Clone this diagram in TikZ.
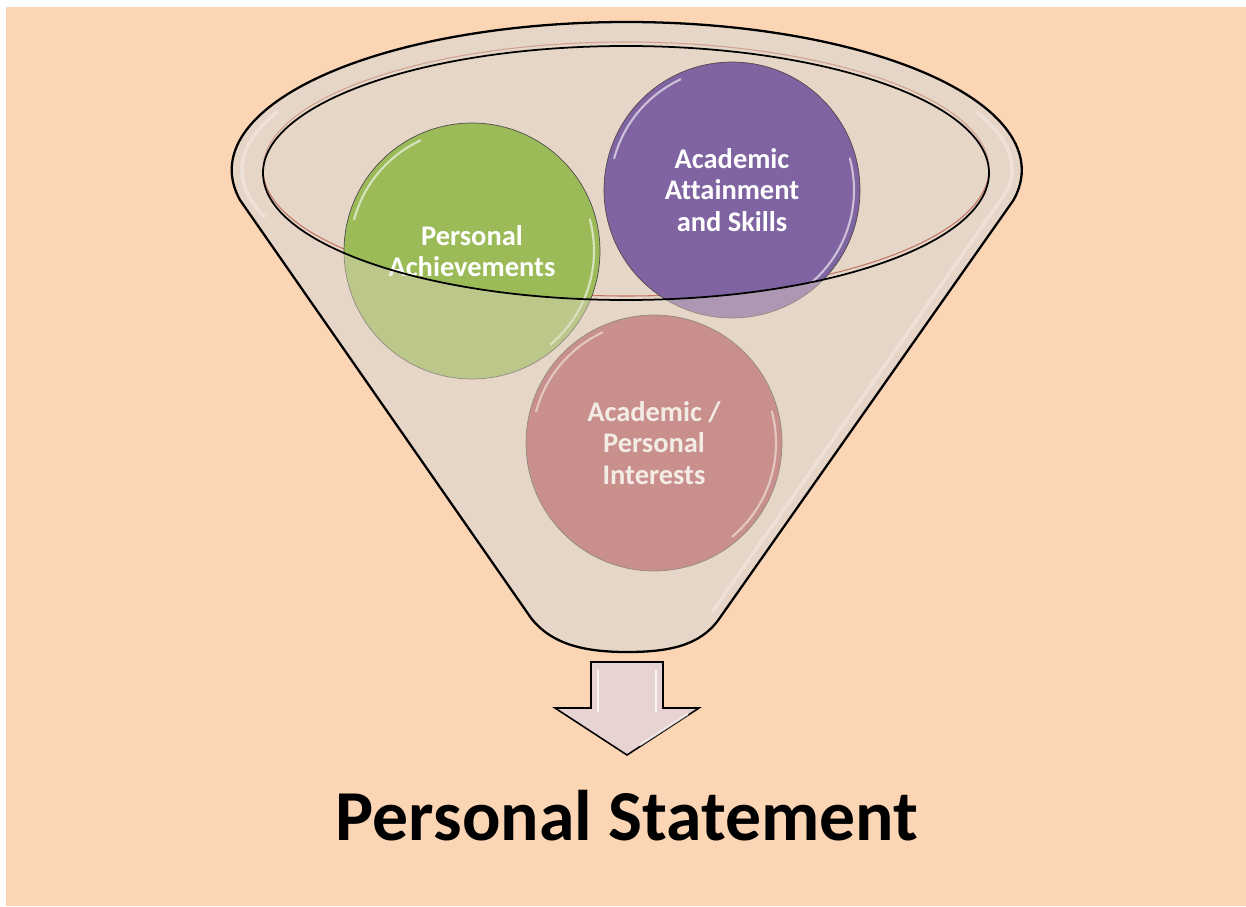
\documentclass[tikz,border=0pt]{standalone}
\usepackage{fontspec}
\setmainfont{Carlito}[Ligatures=NoCommon]
\begin{document}
\begin{tikzpicture}[x=0.02cm,y=-0.02cm]
\definecolor{peach}{HTML}{FCD5B5}
\definecolor{funnelc}{HTML}{E6D6C7}
\definecolor{ballgreen}{HTML}{9BBB59}
\definecolor{ballpurple}{HTML}{8064A2}
\definecolor{ballpink}{HTML}{B2565F}
\definecolor{rimred}{HTML}{C07565}
\definecolor{arrowc}{HTML}{E8D3D3}
\tikzset{
  ball/.style={circle, minimum size=5.12cm, inner sep=0pt, draw=black!70, line width=0.4pt,
    text=white, align=center, font=\bfseries\fontsize{16.2}{17.9}\selectfont},
  gloss/.style={white, opacity=0.6, line width=1.2pt, line cap=round},
  outline/.style={draw=black, line width=1.3pt, line join=round},
  title/.style={font=\bfseries\fontsize{40.8}{48}\selectfont, text=black, inner sep=0pt}
}
\def\funnelpath{(240,200) arc[start angle=168.3, end angle=371.7, x radius=395, y radius=148] -- (719,619) .. controls (700,646) and (668,652) .. (627,652) .. controls (586,652) and (552,645) .. (531,618) -- cycle}
\useasboundingbox (0,0) rectangle (1246,906);
\fill[white] (0,0) rectangle (1246,906);
\fill[peach] (6,7) rectangle (1246,906);
% funnel body
\fill[funnelc] \funnelpath;
% rim highlights
\draw[white, opacity=0.55, line width=2pt] (627,170) ++(160:385 and 138) arc[start angle=160, end angle=205, x radius=385, y radius=138];
\draw[white, opacity=0.55, line width=2pt] (627,170) ++(335:385 and 138) arc[start angle=335, end angle=368, x radius=385, y radius=138] -- (712,612);
\draw[rimred, line width=0.6pt] (626,169) ellipse[x radius=363, y radius=127];
% circles
\node[ball, fill=ballgreen] (ach) at (472,251) {Personal\\Achievements};
\node[ball, fill=ballpurple] (acad) at (732,190) {Academic\\Attainment\\and Skills};
\node[ball, fill=ballpink] (inter) at (654,443) {Academic /\\Personal\\Interests};
\foreach \b in {ach,acad,inter}{
  \draw[gloss] ([shift={(195:122)}]\b.center) arc[start angle=195, end angle=245, radius=122];
  \draw[gloss] ([shift={(-15:122)}]\b.center) arc[start angle=-15, end angle=50, radius=122];
}
% front of funnel (semi-transparent)
\fill[funnelc, opacity=0.45, even odd rule] \funnelpath (626,173) ellipse[x radius=363, y radius=127];
% outlines
\draw[outline] \funnelpath;
\draw[black, line width=1pt] (626,173) ellipse[x radius=363, y radius=127];
% arrow
\draw[fill=arrowc, draw=black, line width=0.9pt, line join=miter] (591,662) -- (663,662) -- (663,708) -- (699,708) -- (627,755) -- (555,708) -- (591,708) -- cycle;
\draw[white, line width=1.5pt, opacity=0.8] (598,670) -- (598,712);
\draw[white, line width=1.5pt, opacity=0.8] (656,670) -- (656,712);
\draw[white, line width=1.2pt, opacity=0.7] (688,714) -- (640,745);
% title
\node[title, anchor=base] (ps) at (627,840) {Personal Statement};
\end{tikzpicture}
\end{document}
